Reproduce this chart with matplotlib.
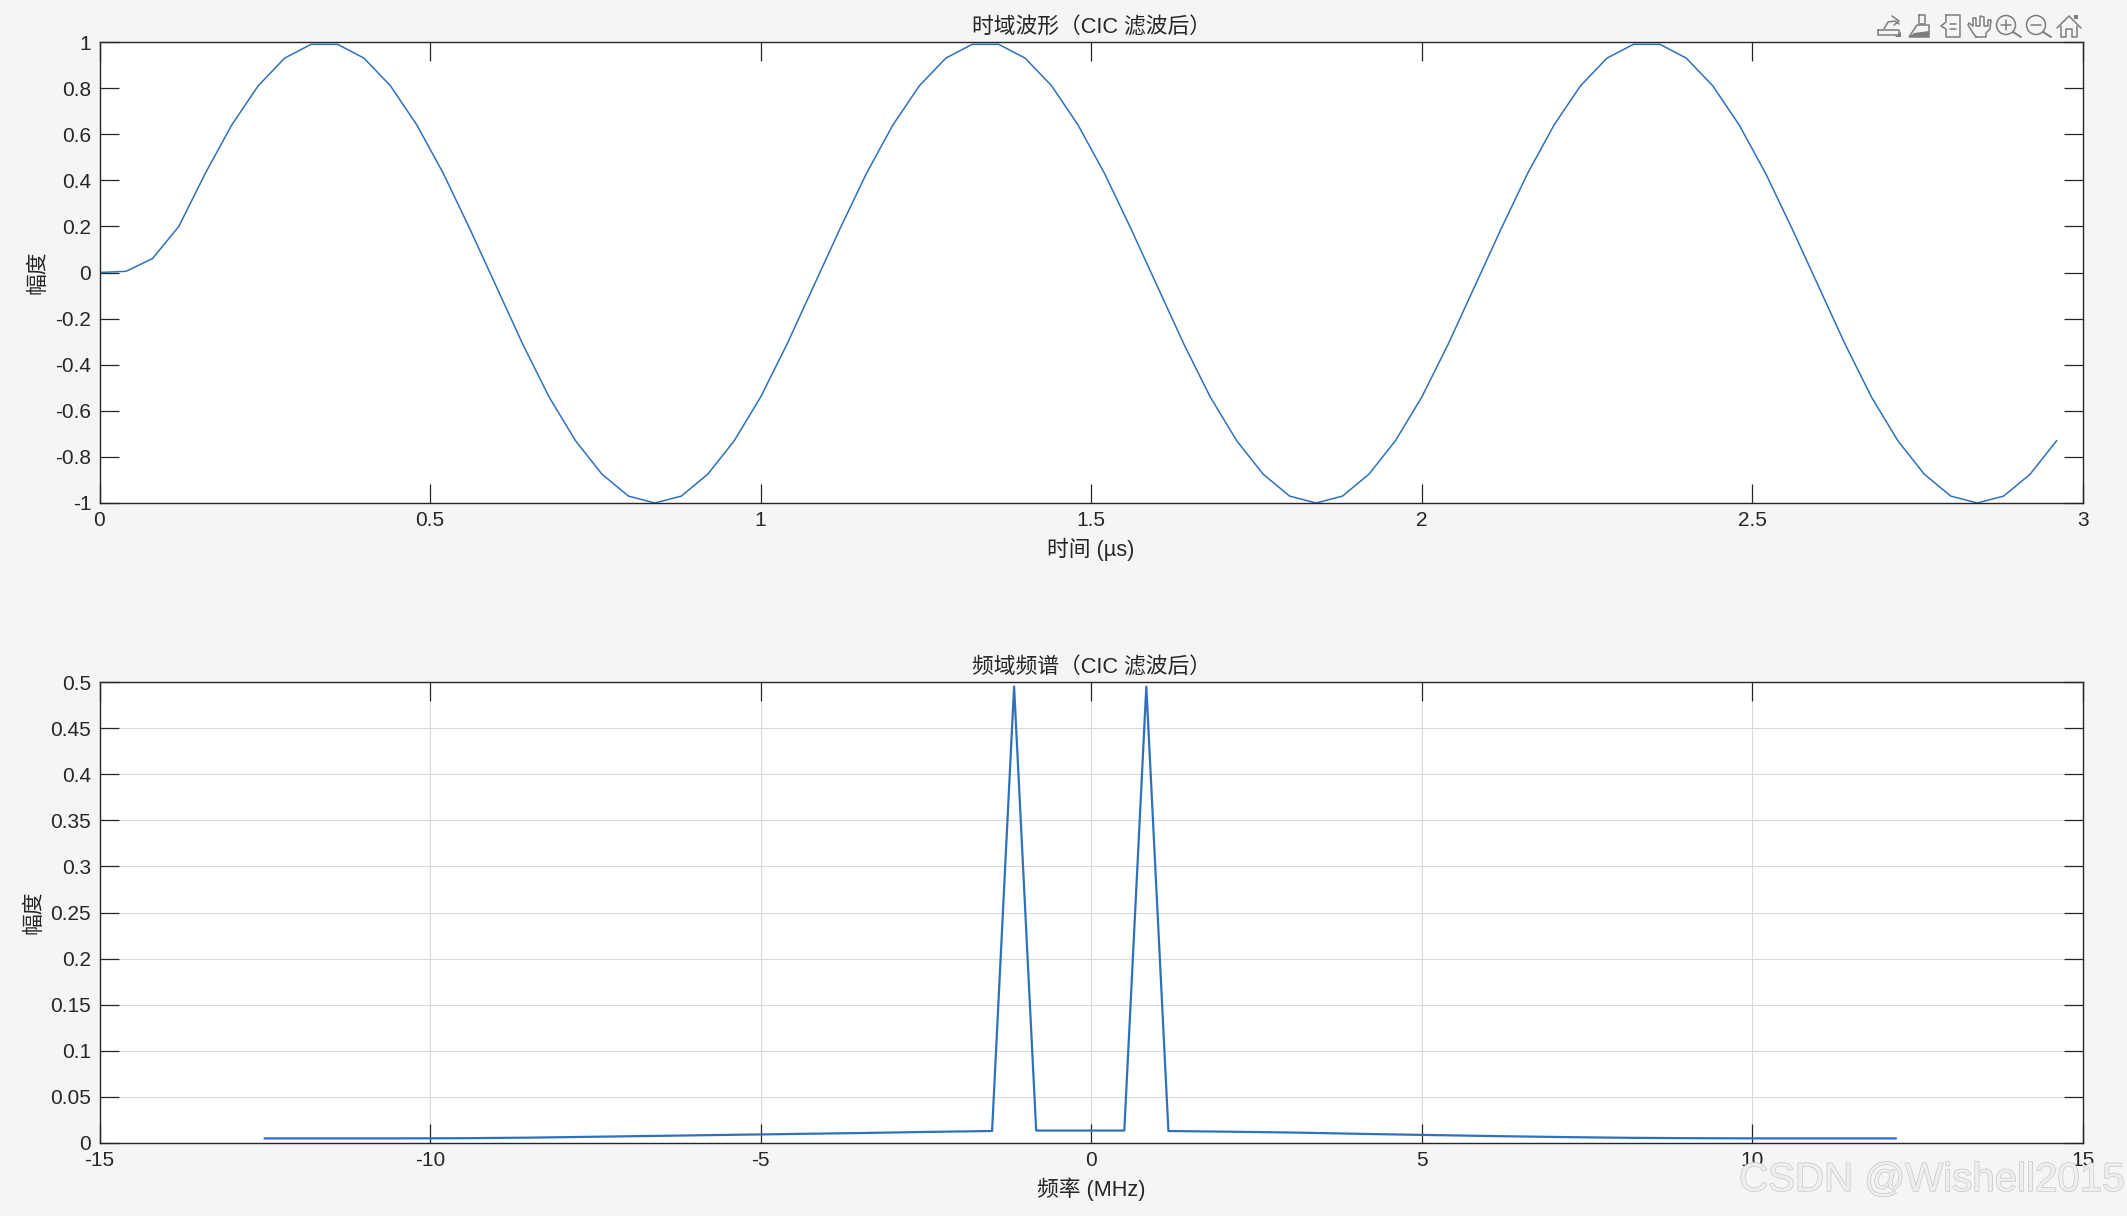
import matplotlib
matplotlib.use("Agg")
import matplotlib.pyplot as plt
import matplotlib.patheffects as pe
from matplotlib.patches import Circle, Polygon, Rectangle

plt.rcParams['font.family'] = ['Liberation Sans', 'Noto Sans CJK SC', 'DejaVu Sans']

W, H = 2127, 1216
BG = '#f5f5f5'
DARK = '#262626'
BLUE = '#2f70bb'

# time domain
time_us = [0.00, 0.04, 0.08, 0.12, 0.16, 0.20, 0.24, 0.28, 0.32, 0.36, 0.40, 0.44, 0.48, 0.52, 0.56,
           0.60, 0.64, 0.68, 0.72, 0.76, 0.80, 0.84, 0.88, 0.92, 0.96, 1.00, 1.04, 1.08, 1.12, 1.16,
           1.20, 1.24, 1.28, 1.32, 1.36, 1.40, 1.44, 1.48, 1.52, 1.56, 1.60, 1.64, 1.68, 1.72, 1.76,
           1.80, 1.84, 1.88, 1.92, 1.96, 2.00, 2.04, 2.08, 2.12, 2.16, 2.20, 2.24, 2.28, 2.32, 2.36,
           2.40, 2.44, 2.48, 2.52, 2.56, 2.60, 2.64, 2.68, 2.72, 2.76, 2.80, 2.84, 2.88, 2.92, 2.96]
amp_time = [0.00, 0.005, 0.06, 0.20, 0.43, 0.64, 0.81, 0.93, 0.99, 0.99, 0.93, 0.81, 0.64, 0.43, 0.19,
            -0.06, -0.31, -0.54, -0.73, -0.875, -0.97, -1.00, -0.97, -0.875, -0.73, -0.54, -0.31, -0.06, 0.19, 0.43,
            0.64, 0.81, 0.93, 0.99, 0.99, 0.93, 0.81, 0.64, 0.43, 0.19, -0.06, -0.31, -0.54, -0.73, -0.875,
            -0.97, -1.00, -0.97, -0.875, -0.73, -0.54, -0.31, -0.06, 0.19, 0.43, 0.64, 0.81, 0.93, 0.99, 0.99,
            0.93, 0.81, 0.64, 0.43, 0.19, -0.06, -0.31, -0.54, -0.73, -0.875, -0.97, -1.00, -0.97, -0.875, -0.73]

# spectrum
freq_mhz = [-12.5, -11.5, -10.5, -9.5, -8.5, -7.5, -6.5, -5.5, -4.5, -3.5, -2.5, -1.5, -1.167, -0.833,
            0.5, 0.833, 1.167, 2.167, 3.167, 4.167, 5.167, 6.167, 7.167, 8.167, 9.167, 10.167, 11.167, 12.167]
amp_freq = [0.005, 0.005, 0.005, 0.0052, 0.0058, 0.0068, 0.0078, 0.0088, 0.0098, 0.0108, 0.012, 0.013, 0.495, 0.0135,
            0.0135, 0.495, 0.013, 0.0122, 0.0112, 0.0098, 0.0086, 0.0074, 0.0064, 0.0056, 0.0052, 0.005, 0.005, 0.005]

time_ticks = [0, 0.5, 1, 1.5, 2, 2.5, 3]
time_labels = ['0', '0.5', '1', '1.5', '2', '2.5', '3']
amp_ticks_top = [-1, -0.8, -0.6, -0.4, -0.2, 0, 0.2, 0.4, 0.6, 0.8, 1]
amp_labels_top = ['-1', '-0.8', '-0.6', '-0.4', '-0.2', '0', '0.2', '0.4', '0.6', '0.8', '1']
freq_ticks = [-15, -10, -5, 0, 5, 10, 15]
freq_labels = ['-15', '-10', '-5', '0', '5', '10', '15']
amp_ticks_bot = [0, 0.05, 0.1, 0.15, 0.2, 0.25, 0.3, 0.35, 0.4, 0.45, 0.5]
amp_labels_bot = ['0', '0.05', '0.1', '0.15', '0.2', '0.25', '0.3', '0.35', '0.4', '0.45', '0.5']


def make_axes(top, bottom):
    left, right = 99.5, 2083
    ax = fig.add_axes([left / W, 1 - bottom / H, (right - left) / W, (bottom - top) / H])
    ax.tick_params(direction='in', length=13.5, width=0.9, top=True, right=True, color=DARK,
                   labelcolor=DARK, labelsize=15, pad=6)
    for spine in ax.spines.values():
        spine.set_linewidth(1.0)
        spine.set_color(DARK)
    return ax


def label_axes(ax, title, xlabel, ylabel, top, bottom, ylabel_x):
    fs = 15.7
    overlay.text(1091, top - 14, title, ha='center', va='center', fontsize=fs, color=DARK)
    overlay.text(1091, bottom + 46, xlabel, ha='center', va='center', fontsize=fs, color=DARK)
    overlay.text(ylabel_x, (top + bottom) / 2 + 0, ylabel, ha='center', va='center', rotation=90,
                 fontsize=fs, color=DARK)


fig = plt.figure(figsize=(W / 100, H / 100), dpi=100, facecolor=BG)

# upper plot
ax1 = make_axes(42, 503)
ax1.plot(time_us, amp_time, color=BLUE, linewidth=1.1)
ax1.set_xlim(0, 3)
ax1.set_ylim(-1, 1)
ax1.set_xticks(time_ticks, time_labels)
ax1.set_yticks(amp_ticks_top, amp_labels_top)

# lower plot
ax2 = make_axes(682, 1143)
ax2.plot(freq_mhz, amp_freq, color=BLUE, linewidth=1.6)
ax2.set_xlim(-15, 15)
ax2.set_ylim(0, 0.5)
ax2.set_xticks(freq_ticks, freq_labels)
ax2.set_yticks(amp_ticks_bot, amp_labels_bot)
ax2.grid(True, color='#d9d9d9', linewidth=0.75)
ax2.set_axisbelow(True)

# pixel overlay for titles, axis labels, toolbar and watermark
overlay = fig.add_axes([0, 0, 1, 1], zorder=5)
overlay.set_xlim(0, W)
overlay.set_ylim(H, 0)
overlay.axis('off')

label_axes(ax1, '时域波形（CIC 滤波后）', '时间 (µs)', '幅度', 42, 503, 38)
label_axes(ax2, '频域频谱（CIC 滤波后）', '频率 (MHz)', '幅度', 682, 1143, 34)

# toolbar icons
ICON = '#7d7d7d'
def icon_line(xs, ys, lw=1.1):
    overlay.plot(xs, ys, color=ICON, linewidth=lw, solid_capstyle='round')

# export
icon_line([1878, 1899, 1899, 1878, 1878], [30, 30, 35, 35, 30])
icon_line([1884, 1888, 1895, 1899], [29, 22, 21, 24])
icon_line([1892, 1899, 1894], [16, 21, 25])
overlay.add_patch(Polygon([[1895, 37], [1901, 37], [1901, 32]], color=ICON, lw=0))
# brush
icon_line([1919, 1925, 1925, 1919, 1919], [15, 15, 24, 24, 15])
overlay.add_patch(Polygon([[1917, 25], [1929, 25], [1929, 37], [1909, 37]], fc='none', ec=ICON, lw=1.1))
overlay.add_patch(Polygon([[1914, 33], [1929, 31], [1929, 37], [1909, 37]], color=ICON, lw=0))
# data tips
icon_line([1946, 1960, 1960, 1946, 1946, 1941, 1946, 1946], [15, 15, 37, 37, 29, 26, 22, 15])
icon_line([1950, 1956], [24, 24])
icon_line([1950, 1956], [29, 29])
# hand
icon_line([1976, 1973, 1968, 1969, 1973, 1973, 1976, 1976, 1980, 1980, 1984, 1984, 1988, 1988, 1991, 1990, 1986, 1986, 1976],
          [37, 33, 25, 23, 26, 18, 18, 26, 26, 16, 17, 26, 26, 20, 20, 29, 33, 37, 37])
# zoom in and out
for cx in (2006, 2036):
    overlay.add_patch(Circle((cx, 25), 9.5, fc='none', ec=ICON, lw=1.1))
    icon_line([cx + 7, cx + 15], [32, 37], lw=1.4)
    icon_line([cx - 5, cx + 5], [25, 25])
icon_line([2006, 2006], [20, 30])
# home
icon_line([2057, 2069, 2081], [28, 16, 28])
icon_line([2061, 2061, 2066, 2066, 2072, 2072, 2077, 2077], [26, 37, 37, 29, 29, 37, 37, 26])
overlay.add_patch(Rectangle((2074, 15), 4, 4, color=ICON, lw=0))

# watermark
overlay.text(1739, 1180, 'CSDN @Wishell2015', ha='left', va='center', fontsize=29, color='#eeeeee',
             path_effects=[pe.withStroke(linewidth=1.0, foreground='#c8c8c8')])

fig.savefig('out.png', dpi=100, facecolor=BG)
